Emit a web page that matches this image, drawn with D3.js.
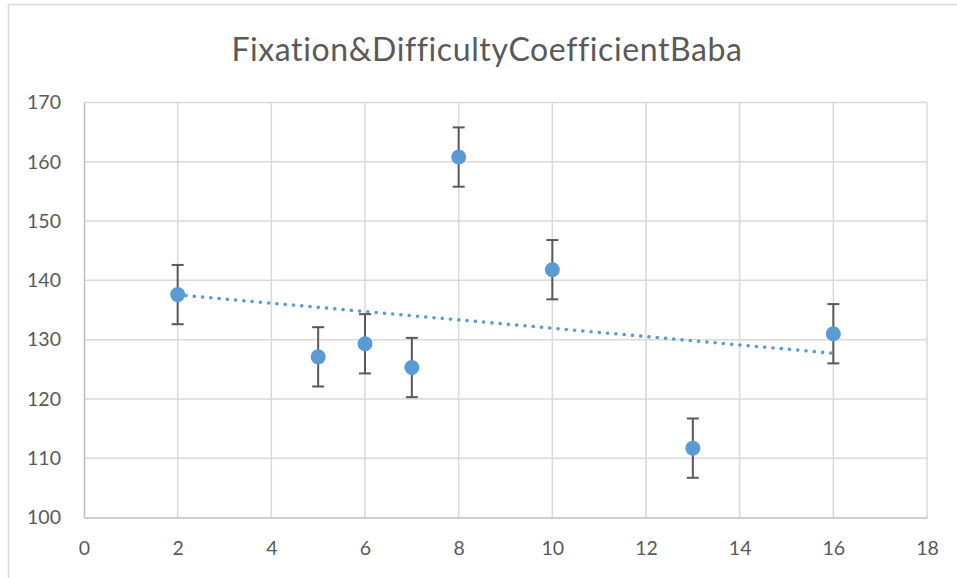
<!DOCTYPE html>
<html>
<head>
<meta charset="utf-8">
<script src="https://cdn.jsdelivr.net/npm/d3@7"></script>
<style>
  body { margin: 0; background: #fff; }
  text { font-family: Lato, "Open Sans", sans-serif; fill: #595959; }
</style>
</head>
<body>
<svg id="chart"></svg>
<script>
var width = 957, height = 578
var margin = {top: 102.5, right: 30, bottom: 60.5, left: 84}

// data
var chartTitle = "Fixation&DifficultyCoefficientBaba"
var xVals = [2, 5, 6, 7, 8, 10, 13, 16]
var yVals = [137.6, 127.1, 129.3, 125.3, 160.8, 141.8, 111.7, 131.0]
var errVals = [5, 5, 5, 5, 5, 5, 5, 5]
var xTicks = [0, 2, 4, 6, 8, 10, 12, 14, 16, 18]
var yTicks = [100, 110, 120, 130, 140, 150, 160, 170]

var points = xVals.map((x, i) => ({x: x, y: yVals[i], e: errVals[i]}))

var svg = d3.select("#chart").attr("width", width).attr("height", height)

// outer chart border
svg.append("rect")
    .attr("x", 8.5).attr("y", 4.5)
    .attr("width", 960).attr("height", 600)
    .attr("fill", "none").attr("stroke", "#d9d9d9").attr("stroke-width", 1.5)

var x = d3.scaleLinear().domain([0, 18]).range([margin.left, 927])
var y = d3.scaleLinear().domain([100, 170]).range([height - margin.bottom, margin.top])

// title
svg.append("text")
    .attr("x", 487).attr("y", 61)
    .attr("text-anchor", "middle")
    .style("font-size", "32px")
    .style("letter-spacing", "0.6px")
    .text(chartTitle)

// gridlines
svg.append("g").selectAll("line.h")
    .data(yTicks.slice(1))
    .enter().append("line")
    .attr("x1", x(0)).attr("x2", x(18))
    .attr("y1", d => y(d)).attr("y2", d => y(d))
    .attr("stroke", "#d9d9d9").attr("stroke-width", 1.5)

svg.append("g").selectAll("line.v")
    .data(xTicks.slice(1))
    .enter().append("line")
    .attr("x1", d => x(d)).attr("x2", d => x(d))
    .attr("y1", y(100)).attr("y2", y(170))
    .attr("stroke", "#d9d9d9").attr("stroke-width", 1.5)

// axes
var xAxis = svg.append("g")
    .attr("transform", "translate(0," + y(100) + ")")
    .call(d3.axisBottom(x).tickValues(xTicks).tickSize(0).tickPadding(24))
xAxis.select(".domain").attr("stroke", "#bfbfbf").attr("stroke-width", 1.5)
xAxis.selectAll("text").style("font-size", "19.5px").attr("fill", "#595959")

var yAxis = svg.append("g")
    .attr("transform", "translate(" + x(0) + ",0)")
    .call(d3.axisLeft(y).tickValues(yTicks).tickSize(0).tickPadding(23))
yAxis.select(".domain").attr("stroke", "#bfbfbf").attr("stroke-width", 1.5)
yAxis.selectAll("text").style("font-size", "19.5px").attr("fill", "#595959")

// linear trendline computed from the points
var mx = d3.mean(xVals), my = d3.mean(yVals)
var slope = d3.sum(points, d => (d.x - mx) * (d.y - my)) / d3.sum(points, d => (d.x - mx) * (d.x - mx))
var icpt = my - slope * mx
var xr = d3.extent(xVals)
svg.append("line")
    .attr("x1", x(xr[0])).attr("y1", y(icpt + slope * xr[0]))
    .attr("x2", x(xr[1])).attr("y2", y(icpt + slope * xr[1]))
    .attr("stroke", "#5b9bd5").attr("stroke-width", 3.5)
    .attr("stroke-linecap", "round")
    .attr("stroke-dasharray", "0.1,8.2")

// error bars
var eb = svg.append("g").selectAll("g").data(points).enter().append("g")
    .attr("stroke", "#595959").attr("stroke-width", 2)
eb.append("line")
    .attr("x1", d => x(d.x)).attr("x2", d => x(d.x))
    .attr("y1", d => y(d.y - d.e)).attr("y2", d => y(d.y + d.e))
eb.append("line")
    .attr("x1", d => x(d.x) - 6).attr("x2", d => x(d.x) + 6)
    .attr("y1", d => y(d.y + d.e)).attr("y2", d => y(d.y + d.e))
eb.append("line")
    .attr("x1", d => x(d.x) - 6).attr("x2", d => x(d.x) + 6)
    .attr("y1", d => y(d.y - d.e)).attr("y2", d => y(d.y - d.e))

// markers
svg.append("g").selectAll("circle")
    .data(points).enter().append("circle")
    .attr("cx", d => x(d.x)).attr("cy", d => y(d.y))
    .attr("r", 7.5)
    .attr("fill", "#5b9bd5")
</script>
</body>
</html>
